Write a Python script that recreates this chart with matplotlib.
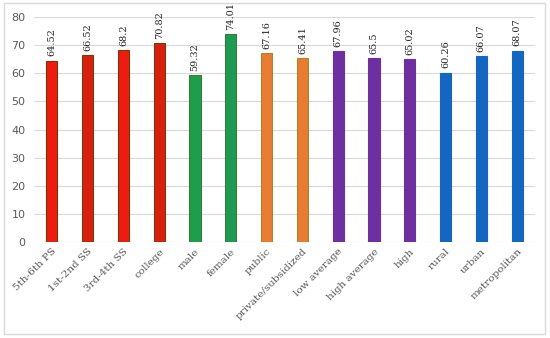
import matplotlib.pyplot as plt
from matplotlib.patches import Rectangle

categories = ['5th-6th PS', '1st-2nd SS', '3rd-4th SS', 'college', 'male', 'female',
              'public', 'private/subsidized', 'low average', 'high average', 'high',
              'rural', 'urban', 'metropolitan']
values = [64.52, 66.52, 68.2, 70.82, 59.32, 74.01, 67.16, 65.41,
          67.96, 65.5, 65.02, 60.26, 66.07, 68.07]
colors = ['#EE1B10', '#D8200E', '#EE1B10', '#D8200E', '#1E9E4A', '#1E9A52',
          '#EA7B32', '#EA7B32', '#6E2FA0', '#6E2FA0', '#6E2FA0',
          '#1467C0', '#1467C0', '#1467C0']
edges = ['#7A3A08', '#7A3A08', '#7A3A08', '#7A3A08', '#3C7A3C', '#3C7A3C',
         '#A08A30', '#A08A30', '#6E2FA0', '#6E2FA0', '#6E2FA0',
         '#1467C0', '#1467C0', '#1467C0']
yticks = [0, 10, 20, 30, 40, 50, 60, 70, 80]

fig = plt.figure(figsize=(5.5, 3.38), dpi=100)
ax = fig.add_axes([34 / 550, 1 - 242 / 338, 501 / 550, 225 / 338])

x = list(range(len(categories)))
ax.bar(x, values, width=0.31, color=colors, edgecolor=edges, linewidth=0.8, zorder=3)

for xi, v in zip(x, values):
    ax.text(xi, v + 1.5, f'{v:g}', rotation=90, ha='center', va='bottom',
            fontsize=7, family='DejaVu Serif', color='#222222')

ax.set_xlim(-0.5, len(categories) - 0.5)
ax.set_ylim(0, 80)
ax.set_yticks(yticks)
ax.yaxis.grid(True, color='#D9D9D9', linewidth=0.8, zorder=0)
for s in ax.spines.values():
    s.set_visible(False)
ax.tick_params(axis='both', length=0, colors='#595959', labelsize=8)
ax.tick_params(axis='y', pad=6)
ax.set_xticks(x)
ax.set_xticklabels(categories, rotation=45, ha='right', rotation_mode='anchor',
                   family='DejaVu Serif', fontsize=7.5)

fig.add_artist(Rectangle((4 / 550, 4 / 338), 541 / 550, 331 / 338, fill=False,
                         edgecolor='#D9D9D9', linewidth=1, transform=fig.transFigure))

fig.savefig('out.png', dpi=100)
